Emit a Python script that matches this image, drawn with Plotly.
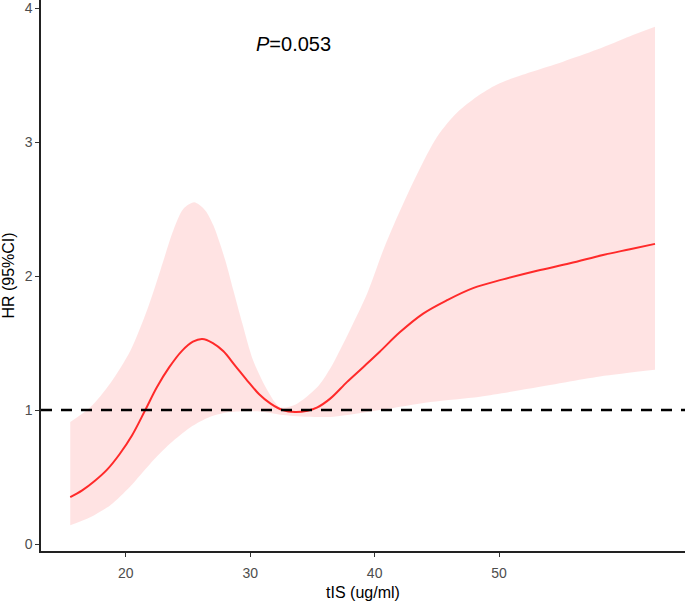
import plotly.graph_objects as go

# Estimated hazard ratio curve (restricted cubic spline)
hr_x = [15.54, 16.50, 17.50, 18.50, 19.50, 20.50, 21.57, 22.50, 23.50, 24.50, 25.40, 26.14,
        27.00, 27.83, 28.80, 29.76, 30.70, 31.61, 32.60, 33.60, 34.60, 35.40, 36.43,
        37.79, 39.08, 40.41, 42.02, 43.90, 45.82, 47.91, 50.32, 53.05, 55.70, 58.35,
        60.52, 62.53]
hr_y = [0.35, 0.40, 0.47, 0.555, 0.67, 0.81, 1.00, 1.17, 1.32, 1.44, 1.51, 1.53,
        1.50, 1.44, 1.33, 1.22, 1.12, 1.05, 1.00, 0.985, 0.995, 1.02, 1.085,
        1.21, 1.32, 1.435, 1.58, 1.72, 1.82, 1.91, 1.975, 2.04, 2.095, 2.157,
        2.20, 2.24]

up_x = [15.54, 17.15, 18.76, 20.36, 21.73, 22.77, 23.82, 24.62, 25.50, 26.39, 27.03,
        27.99, 28.63, 29.36, 30.24, 31.37, 32.41, 33.61, 35.38, 36.43, 38.03, 39.40,
        40.68, 41.81, 43.41, 45.02, 46.63, 48.23, 49.84, 52.49, 55.14, 57.87, 60.52, 62.53]
up_y = [0.91, 1.02, 1.20, 1.44, 1.75, 2.04, 2.34, 2.50, 2.55, 2.49, 2.38,
        2.12, 1.90, 1.65, 1.37, 1.15, 1.02, 1.04, 1.17, 1.31, 1.60, 1.87,
        2.19, 2.44, 2.76, 3.04, 3.22, 3.34, 3.43, 3.52, 3.60, 3.69, 3.79, 3.86]

lo_x = [15.54, 17.15, 18.76, 20.36, 21.97, 23.57, 25.18, 26.79, 28.39, 30.56, 32.41,
        34.58, 36.67, 40.45, 44.50, 48.47, 52.49, 58.11, 62.53]
lo_y = [0.14, 0.20, 0.29, 0.43, 0.60, 0.75, 0.87, 0.95, 0.985, 0.99, 0.965,
        0.95, 0.95, 1.00, 1.06, 1.10, 1.16, 1.25, 1.30]

x_ticks = [20, 30, 40, 50]
y_ticks = [0, 1, 2, 3, 4]
p_label = "<i>P</i>=0.053"
ref_hr = 1

fig = go.Figure()
fig.add_trace(go.Scatter(
    x=lo_x, y=lo_y, mode="lines",
    line=dict(width=0, color="rgba(0,0,0,0)", shape="spline", smoothing=0.8),
    hoverinfo="skip", showlegend=False))
fig.add_trace(go.Scatter(
    x=up_x, y=up_y, mode="lines", fill="tonexty", fillcolor="rgba(255,0,0,0.11)",
    line=dict(width=0, color="rgba(0,0,0,0)", shape="spline", smoothing=0.8),
    hoverinfo="skip", showlegend=False))
fig.add_trace(go.Scatter(
    x=hr_x, y=hr_y, mode="lines",
    line=dict(color="#FF2A2A", width=2, shape="spline", smoothing=1.0),
    showlegend=False))

fig.add_shape(type="line", xref="paper", yref="y", x0=0, x1=1, y0=ref_hr, y1=ref_hr,
              line=dict(color="black", width=2.4, dash="11px,9px"))

fig.add_annotation(x=33.45, y=3.73, xref="x", yref="y", text=p_label, showarrow=False,
                   font=dict(family="Liberation Sans, Arial", size=20, color="black"))

axis_common = dict(showgrid=False, zeroline=False, showline=True, linecolor="#222222",
                   linewidth=1.5, ticks="outside", ticklen=4, tickwidth=1.2,
                   tickcolor="#333333", ticklabeloverflow="allow",
                   tickfont=dict(family="Liberation Sans, Arial", size=14, color="#4D4D4D"))

fig.update_layout(
    width=685, height=601,
    margin=dict(l=41, r=0, t=0, b=50),
    plot_bgcolor="white", paper_bgcolor="white",
    xaxis=dict(range=[13.19, 64.94], tickvals=x_ticks, ticklabelstandoff=4,
               title=dict(text="tIS (ug/ml)", standoff=8,
                          font=dict(family="Liberation Sans, Arial", size=16, color="black")),
               **axis_common),
    yaxis=dict(range=[-0.052, 4.06], tickvals=y_ticks, automargin=False,
               title=dict(text="HR (95%CI)", standoff=6,
                          font=dict(family="Liberation Sans, Arial", size=16, color="black")),
               **axis_common),
)

fig.write_html("out.html", config={"displayModeBar": False},
               post_script="document.body.style.margin='0';document.body.style.overflow='hidden';")
